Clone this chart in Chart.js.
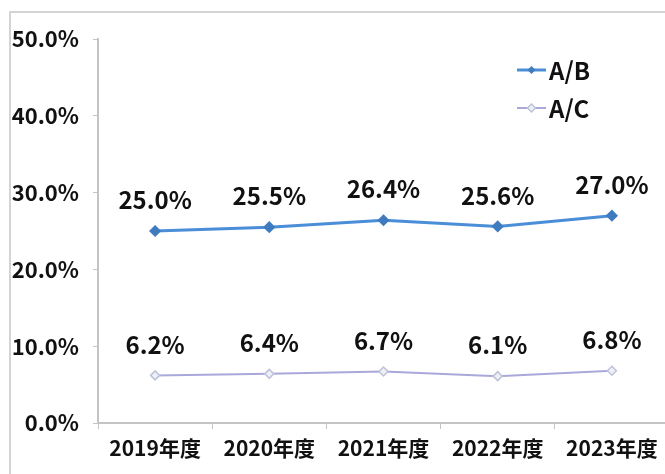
<!DOCTYPE html>
<html>
<head>
<meta charset="utf-8">
<script src="https://cdn.jsdelivr.net/npm/chart.js@4/dist/chart.umd.min.js"></script>
<style>
  html, body { margin: 0; padding: 0; background: #fff; }
  #wrap { position: relative; width: 665px; height: 474px; overflow: hidden; }
  #frame { position: absolute; left: 9px; top: 11px; width: 700px; height: 500px;
           border-left: 2px solid #d4d4d4; border-top: 2px solid #d4d4d4; }
  canvas { position: absolute; left: 0; top: 0; }
</style>
</head>
<body>
<div id="wrap">
  <div id="frame"></div>
  <canvas id="chart" width="676" height="474"></canvas>
</div>
<script>
// categories and series (percent)
const years = ['2019年度', '2020年度', '2021年度', '2022年度', '2023年度'];
const ratioAB = [25.0, 25.5, 26.4, 25.6, 27.0];
const ratioAC = [6.2, 6.4, 6.7, 6.1, 6.8];
const yTicks = [0, 10, 20, 30, 40, 50];

const FONT = '"Noto Sans CJK JP", "Noto Sans", sans-serif';
const AB_LINE = '#4a8ed8';
const AB_POINT = '#3f7bbf';
const AC_LINE = '#aaa8da';
const AC_POINT = '#bfc3da';

// value labels above each point
const valueLabels = {
  id: 'valueLabels',
  afterDatasetsDraw(chart) {
    const ctx = chart.ctx;
    ctx.save();
    ctx.font = 'bold 24px ' + FONT;
    ctx.fillStyle = '#111';
    ctx.textAlign = 'center';
    ctx.textBaseline = 'middle';
    chart.data.datasets.forEach((ds, i) => {
      chart.getDatasetMeta(i).data.forEach((pt, j) => {
        ctx.fillText(ds.data[j].toFixed(1) + '%', pt.x, pt.y - 31);
      });
    });
    ctx.restore();
  }
};

// legend drawn inside the plot, top right
const insideLegend = {
  id: 'insideLegend',
  afterDraw(chart) {
    const ctx = chart.ctx;
    const items = [
      { label: 'A/B', line: AB_LINE, point: AB_POINT, width: 3, fill: true, y: 70 },
      { label: 'A/C', line: AC_LINE, point: AC_POINT, width: 2, fill: false, y: 108 }
    ];
    ctx.save();
    items.forEach(it => {
      const x0 = 517, x1 = 546, cx = (x0 + x1) / 2;
      ctx.strokeStyle = it.line;
      ctx.lineWidth = it.width;
      ctx.beginPath();
      ctx.moveTo(x0, it.y);
      ctx.lineTo(x1, it.y);
      ctx.stroke();
      ctx.beginPath();
      ctx.moveTo(cx, it.y - 4);
      ctx.lineTo(cx + 4, it.y);
      ctx.lineTo(cx, it.y + 4);
      ctx.lineTo(cx - 4, it.y);
      ctx.closePath();
      if (it.fill) { ctx.fillStyle = it.point; ctx.fill(); }
      else { ctx.fillStyle = '#eef0f6'; ctx.fill(); ctx.strokeStyle = it.point; ctx.lineWidth = 1.5; ctx.stroke(); }
      ctx.fillStyle = '#111';
      ctx.font = 'bold 24px ' + FONT;
      ctx.textAlign = 'left';
      ctx.textBaseline = 'middle';
      ctx.fillText(it.label, 549, it.y + 1);
    });
    ctx.restore();
  }
};

new Chart(document.getElementById('chart').getContext('2d'), {
  type: 'line',
  data: {
    labels: years,
    datasets: [
      {
        label: 'A/B',
        data: ratioAB,
        borderColor: AB_LINE,
        backgroundColor: AB_POINT,
        borderWidth: 3,
        pointStyle: 'rectRot',
        pointRadius: 4,
        pointBackgroundColor: AB_POINT,
        pointBorderColor: AB_POINT,
        tension: 0
      },
      {
        label: 'A/C',
        data: ratioAC,
        borderColor: AC_LINE,
        backgroundColor: '#fff',
        borderWidth: 2,
        pointStyle: 'rectRot',
        pointRadius: 4.5,
        pointBorderWidth: 1.5,
        pointBackgroundColor: '#eef0f6',
        pointBorderColor: AC_POINT,
        tension: 0
      }
    ]
  },
  options: {
    responsive: false,
    animation: false,
    layout: { padding: { left: 11, top: 39, right: 0, bottom: 0 } },
    scales: {
      x: {
        offset: true,
        afterFit(scale) { scale.height = 51; },
        grid: {
          display: true,
          offset: true,
          drawOnChartArea: false,
          drawTicks: true,
          tickLength: 6,
          color: '#c4c4c4'
        },
        border: { display: true, color: '#c4c4c4', width: 2 },
        ticks: {
          color: '#111',
          padding: 6,
          maxRotation: 0,
          autoSkip: false,
          font: { family: FONT, size: 21, weight: 'bold' }
        }
      },
      y: {
        min: 0,
        max: 50,
        afterFit(scale) { scale.width = 87; },
        afterBuildTicks(scale) { scale.ticks = yTicks.map(v => ({ value: v })); },
        grid: {
          display: true,
          drawOnChartArea: false,
          drawTicks: true,
          tickLength: 5,
          color: '#c4c4c4'
        },
        border: { display: true, color: '#c4c4c4', width: 2 },
        ticks: {
          color: '#111',
          padding: 14,
          font: { family: FONT, size: 22, weight: 'bold' },
          callback: v => v.toFixed(1) + '%'
        }
      }
    },
    plugins: {
      legend: { display: false },
      tooltip: { enabled: false }
    }
  },
  plugins: [valueLabels, insideLegend]
});
</script>
</body>
</html>
